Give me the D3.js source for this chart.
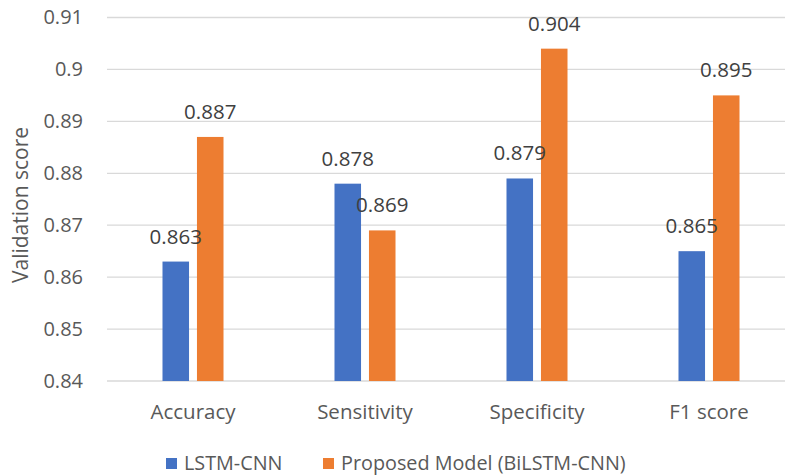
<!DOCTYPE html>
<html>
<head>
<meta charset="utf-8">
<script src="https://cdn.jsdelivr.net/npm/d3@7"></script>
<style>
  html, body { margin: 0; padding: 0; background: #fff; }
  svg { display: block; font-family: "Open Sans", "Liberation Sans", sans-serif; }
</style>
</head>
<body>
<svg id="chart" width="785" height="475"></svg>
<script>
// Validation metrics for the two models
const categories = ["Accuracy", "Sensitivity", "Specificity", "F1 score"];
const seriesNames = ["LSTM-CNN", "Proposed Model (BiLSTM-CNN)"];
const lstmCnn = [0.863, 0.878, 0.879, 0.865];
const biLstmCnn = [0.887, 0.869, 0.904, 0.895];
const yTicks = [0.84, 0.85, 0.86, 0.87, 0.88, 0.89, 0.9, 0.91];
const colors = ["#4472C4", "#ED7D31"];

const seriesValues = [lstmCnn, biLstmCnn];
const textColor = "#595959";

const svg = d3.select("#chart");
const plot = { left: 107, right: 795, top: 17.5, bottom: 381 };

const x = d3.scaleBand().domain(categories).range([plot.left, plot.right]).paddingInner(0).paddingOuter(0);
const x1 = d3.scaleBand().domain(seriesNames).range([0, x.bandwidth()]).paddingInner(0.23).paddingOuter(1.61);
const y = d3.scaleLinear().domain([0.84, 0.91]).range([plot.bottom, plot.top]);

// Horizontal gridlines
svg.append("g")
  .selectAll("line")
  .data(yTicks)
  .join("line")
  .attr("x1", plot.left)
  .attr("x2", plot.right)
  .attr("y1", d => y(d))
  .attr("y2", d => y(d))
  .attr("stroke", "#d9d9d9")
  .attr("stroke-width", 1.3);

// Y axis tick labels
const yAxis = d3.axisLeft(y).tickValues(yTicks).tickSize(0).tickPadding(0).tickFormat(d3.format("~g"));
const yg = svg.append("g").attr("transform", `translate(${plot.left - 24},0)`).call(yAxis);
yg.select(".domain").remove();
yg.selectAll("text")
  .attr("fill", textColor)
  .style("font-size", "20px")
  .style("font-family", "'Open Sans', sans-serif");

// Y axis title
svg.append("text")
  .attr("transform", `translate(28,205) rotate(-90)`)
  .attr("text-anchor", "middle")
  .attr("fill", textColor)
  .style("font-size", "21px")
  .text("Validation score");

// Bars
const groups = svg.append("g")
  .selectAll("g")
  .data(categories)
  .join("g")
  .attr("transform", d => `translate(${x(d)},0)`);

groups.selectAll("rect")
  .data((c, i) => seriesNames.map((s, k) => ({ s, k, v: seriesValues[k][i] })))
  .join("rect")
  .attr("x", d => x1(d.s))
  .attr("width", x1.bandwidth())
  .attr("y", d => y(d.v))
  .attr("height", d => y(0.84) - y(d.v))
  .attr("fill", d => colors[d.k]);

// Value labels
groups.selectAll("text.val")
  .data((c, i) => seriesNames.map((s, k) => ({ s, k, v: seriesValues[k][i] })))
  .join("text")
  .attr("class", "val")
  .attr("x", d => x1(d.s) + x1.bandwidth() / 2)
  .attr("y", d => y(d.v) - 18)
  .attr("text-anchor", "middle")
  .attr("fill", "#404040")
  .style("font-size", "20.5px")
  .text(d => d3.format(".3f")(d.v));

// Category axis labels
const xAxis = d3.axisBottom(x).tickSize(0).tickPadding(0);
const xg = svg.append("g").attr("transform", `translate(0,${plot.bottom})`).call(xAxis);
xg.select(".domain").remove();
xg.selectAll("text")
  .attr("fill", textColor)
  .attr("dy", null)
  .attr("y", 38)
  .style("font-size", "20.5px")
  .style("font-family", "'Open Sans', sans-serif");

// Legend
const legendPos = [166, 323];
const legend = svg.append("g")
  .selectAll("g")
  .data(seriesNames)
  .join("g")
  .attr("transform", (d, i) => `translate(${legendPos[i]},458)`);
legend.append("rect")
  .attr("width", 11)
  .attr("height", 11)
  .attr("fill", (d, i) => colors[i]);
legend.append("text")
  .attr("x", 18)
  .attr("y", 12)
  .attr("fill", textColor)
  .style("font-size", "19.8px")
  .text(d => d);
</script>
</body>
</html>
